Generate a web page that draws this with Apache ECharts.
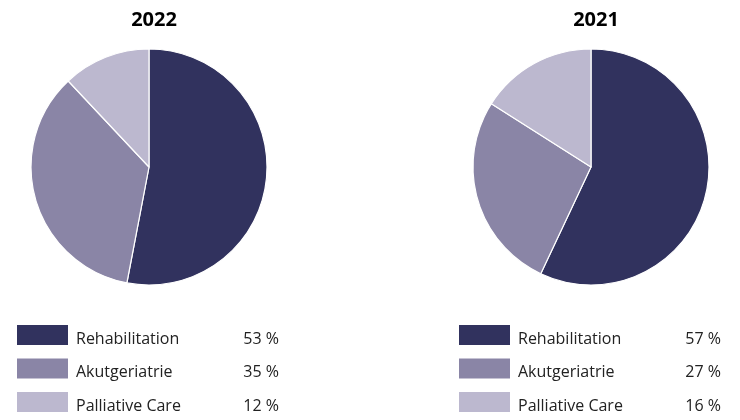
<!DOCTYPE html>
<html>
<head>
    <meta charset="UTF-8">
    <title>Pie 2022 / 2021</title>
    <style>
        html, body { margin: 0; padding: 0; background: #fff; }
        #main { width: 740px; height: 420px; }
    </style>
</head>
<body>
<div id="main"></div>
<script src="https://cdn.jsdelivr.net/npm/echarts@6/dist/echarts.min.js"></script>
<script type="text/javascript">
    // data
    var categories = ['Rehabilitation', 'Akutgeriatrie', 'Palliative Care'];
    var colors = ['#31325e', '#8a85a6', '#bcb8cf'];
    var years = ['2022', '2021'];
    var values2022 = [53, 35, 12];
    var values2021 = [57, 27, 16];

    var FONT = '"Open Sans", "Noto Sans", sans-serif';
    var centersX = [149, 591];
    var legendLeft = [15, 457];

    function makeLegend(idx, vals) {
        return {
            orient: 'vertical',
            left: legendLeft[idx],
            top: 323,
            height: 200,
            padding: 0,
            itemWidth: 53,
            itemHeight: 22,
            itemGap: 9.5,
            icon: 'rect',
            selectedMode: false,
            data: categories,
            formatter: function (name) {
                var v = vals[categories.indexOf(name)];
                return '{n|' + name + '}{p|' + v + ' %}';
            },
            textStyle: {
                rich: {
                    n: { width: 145, fontSize: 16, lineHeight: 22, color: '#222', fontFamily: FONT, padding: [8, 0, 0, 2] },
                    p: { width: 58, align: 'right', fontSize: 16, lineHeight: 22, color: '#222', fontFamily: FONT, padding: [8, 0, 0, 0] }
                }
            }
        };
    }

    function makePie(idx, vals) {
        return {
            type: 'pie',
            center: [centersX[idx], 167],
            radius: 118,
            startAngle: 90,
            clockwise: true,
            label: { show: false },
            labelLine: { show: false },
            silent: true,
            itemStyle: { borderColor: '#fff', borderWidth: 1.2 },
            data: categories.map(function (c, i) {
                return { name: c, value: vals[i], itemStyle: { color: colors[i] } };
            })
        };
    }

    var chart = echarts.init(document.getElementById('main'), null, { renderer: 'canvas' });
    var option = {
        animation: false,
        color: colors,
        title: years.map(function (y, i) {
            return {
                text: y,
                left: centersX[i],
                top: 5,
                textAlign: 'center',
                textStyle: { fontSize: 20, fontWeight: 'bold', color: '#000', fontFamily: FONT }
            };
        }),
        legend: [makeLegend(0, values2022), makeLegend(1, values2021)],
        series: [makePie(0, values2022), makePie(1, values2021)]
    };
    chart.setOption(option);
</script>
</body>
</html>
